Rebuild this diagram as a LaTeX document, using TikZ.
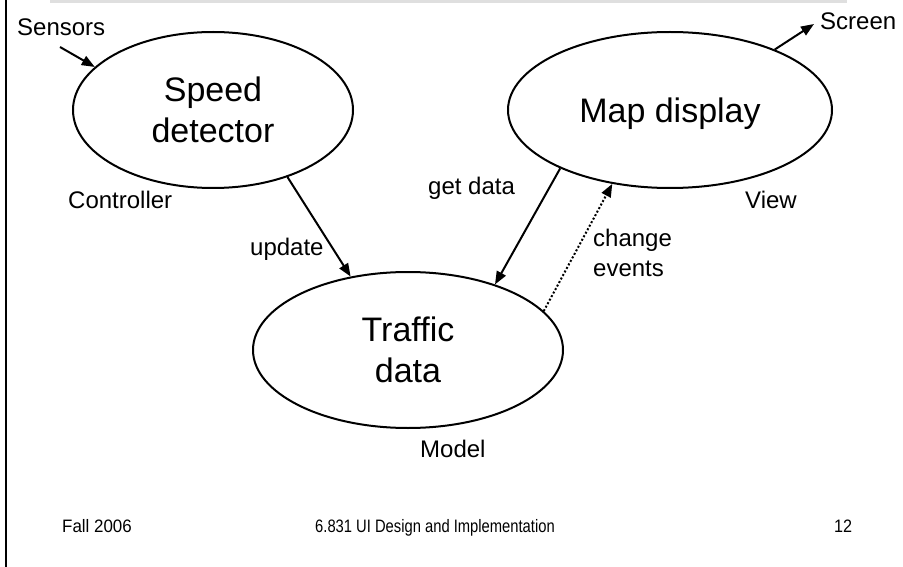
\documentclass[tikz,border=0pt]{standalone}
\usepackage{fontspec}
\setmainfont{Liberation Sans}
\usetikzlibrary{shapes.geometric,arrows.meta}
\begin{document}
\begin{tikzpicture}[x=1pt,y=-1pt,
  blob/.style={ellipse,draw,line width=2pt,inner sep=0pt,align=center,
    font=\fontsize{34}{40.5}\selectfont},
  lbl/.style={inner sep=0pt,font=\fontsize{24}{30}\selectfont},
  foot/.style={inner sep=0pt,anchor=base west,font=\fontsize{18}{20}\selectfont},
  conn/.style={line width=2pt,-{Triangle[length=13pt,width=10pt]}},
  dotconn/.style={conn,dash pattern=on 2pt off 2pt}]
\useasboundingbox (0,0) rectangle (903,567);
\fill[white] (0,0) rectangle (903,567);
\draw[gray!25,line width=3pt] (50,1.5) -- (847,1.5);
\draw[line width=1.5pt] (6,0) -- (6,567);

\node[blob,minimum width=280,minimum height=156] (speed) at (213,110) {Speed\\detector};
\node[blob,minimum width=324,minimum height=156,text depth=0pt] (map) at (670,110) {Map display};
\node[blob,minimum width=310,minimum height=156] (traffic) at (408,350) {Traffic\\data};

\node[lbl,anchor=base west] (sensors) at (17,36) {Sensors};
\node[lbl,anchor=base west] (screen) at (820,30) {Screen};
\node[lbl,anchor=base west] (controller) at (68,208) {Controller};
\node[lbl,anchor=base west] (view) at (745,208) {View};
\node[lbl,anchor=base west] (model) at (420,457) {Model};
\node[lbl,anchor=base west] (getdata) at (428,195) {get data};
\node[lbl,anchor=base west] (update) at (250,255) {update};
\node[lbl,anchor=west,align=left] (change) at (593,253) {change\\events};

\coordinate (sensorsout) at (60,47);
\coordinate (screenin) at (814,24);

\draw[conn] (sensorsout) -- (speed.160.4);
\draw[conn] (map.30.6) -- (screenin);
\draw[conn] (speed.-42.3) -- (traffic.128.1);
\draw[conn] (map.208.6) -- (traffic.37);
\draw[dotconn] (traffic.16.8) -- (map.232);

\node[foot] (fall) at (62,532) {\scalebox{0.94}[1]{Fall 2006}};
\node[foot] (course) at (315,532) {\scalebox{0.82}[1]{6.831 UI Design and Implementation}};
\node[foot] (page) at (834,532) {\scalebox{0.9}[1]{12}};
\end{tikzpicture}
\end{document}
